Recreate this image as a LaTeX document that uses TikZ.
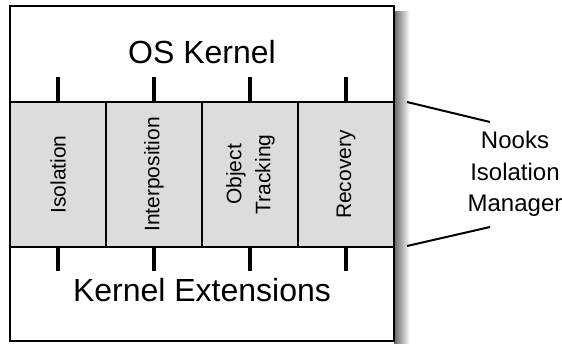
\documentclass[tikz,border=0pt]{standalone}
\usepackage{fontspec}
\setmainfont{Liberation Sans}
\usetikzlibrary{calc}
\definecolor{bandgray}{RGB}{220,220,220}
\tikzset{
  outerbox/.style={draw=black, line width=2.5pt, fill=white, minimum width=384pt, minimum height=335pt, inner sep=0pt},
  colbox/.style={draw=black, line width=2pt, fill=bandgray, minimum width=96pt, minimum height=145pt, inner sep=0pt, font=\fontsize{21}{29}\selectfont},
  bigtext/.style={font=\fontsize{32}{38}\selectfont, inner sep=0pt},
  sidetext/.style={font=\fontsize{24}{31.5}\selectfont, align=center, inner sep=0pt},
  tickline/.style={line width=4pt, line cap=butt},
  pointer/.style={line width=2pt}
}
\begin{document}
\begin{tikzpicture}[x=1pt,y=-1pt]
\useasboundingbox (0,0) rectangle (562,343);
% shadow
\shade[left color=black!60, right color=white] (394,11) rectangle (410,343);
\node[outerbox] (outer) at (202,173.5) {};
% text
\node[bigtext] (os) at (202,52) {OS Kernel};
\node[bigtext] (ext) at (202,290) {Kernel Extensions};
% columns
\node[colbox] (c1) at (58,174.5) {\rotatebox{90}{Isolation}};
\node[colbox] (c2) at (154,174.5) {\rotatebox{90}{Interposition}};
\node[colbox] (c3) at (250,174.5) {\rotatebox{90}{\begin{tabular}{@{}c@{}}Object\\Tracking\end{tabular}}};
\node[colbox] (c4) at (346,174.5) {\rotatebox{90}{Recovery}};
% ticks
\foreach \i/\x in {1/58,2/154,3/250,4/346}{
  \coordinate (tt\i) at (\x,77);
  \coordinate (tb\i) at (\x,271);
  \draw[tickline] (c\i.north) -- (tt\i);
  \draw[tickline] (c\i.south) -- (tb\i);
}
% side label
\node[sidetext] (nooks) at (515,174) {Nooks\\Isolation\\Manager};
\coordinate (pa) at (407,102);
\coordinate (pb) at (490,122);
\coordinate (pc) at (407,246);
\coordinate (pd) at (490,227);
\draw[pointer] (pa) -- (pb);
\draw[pointer] (pc) -- (pd);
\end{tikzpicture}
\end{document}
